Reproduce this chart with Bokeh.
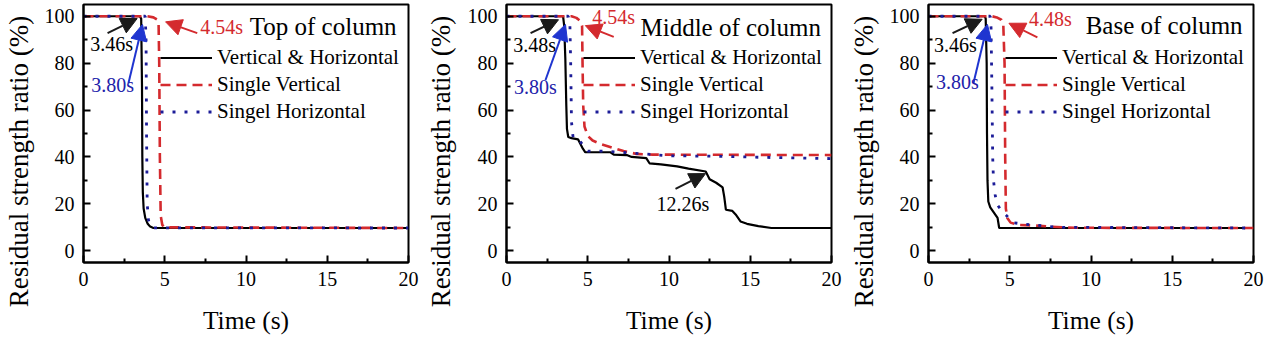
import math
from bokeh.plotting import figure
from bokeh.models import Range1d, FixedTicker, Arrow, NormalHead, Legend, LegendItem, Label
from bokeh.layouts import row
from bokeh.embed import file_html
from bokeh.resources import INLINE

# ---------------- data ----------------
series_names = ["Vertical & Horizontal", "Single Vertical", "Singel Horizontal"]
panel_titles = ["Top of column", "Middle of column", "Base of column"]
x_label = "Time (s)"
y_label = "Residual strength ratio (%)"
x_ticks = [0, 5, 10, 15, 20]
y_ticks = [0, 20, 40, 60, 80, 100]

# Top of column
top_t_vh = [0, 3.46, 3.55, 3.6, 3.62, 3.65, 3.7, 3.8, 3.95, 4.1, 4.3, 20]
top_y_vh = [100, 100, 99, 70, 40, 25, 18, 14, 11.5, 10.3, 9.7, 9.7]
top_t_v = [0, 3.9, 4.3, 4.54, 4.62, 4.66, 4.7, 4.75, 4.85, 5.0, 20]
top_y_v = [100, 100, 99.5, 98.5, 97, 80, 40, 15, 11, 10, 9.7]
top_t_h = [0, 3.8, 3.85, 3.88, 3.92, 4.0, 4.1, 4.25, 20]
top_y_h = [100, 100, 90, 50, 20, 13, 11, 9.8, 9.7]

# Middle of column
mid_t_vh = [0, 3.48, 3.55, 3.62, 3.68, 3.72, 3.8, 4.0, 4.4, 4.55, 4.7, 4.85, 5.5, 6.4, 6.6, 7.4, 7.7, 8.6, 8.8, 9.5,
            10.5, 11.2, 12.26, 12.5, 12.9, 13.3, 13.4, 13.5, 13.9, 14.1, 14.4, 14.8, 15.5, 16.3, 20]
mid_y_vh = [100, 100, 96, 82, 62, 52, 48.5, 48, 47.5, 45.5, 43.5, 42, 42, 42, 41, 40.8, 40, 39.5, 37.3, 36.8,
            36, 35, 33.8, 30.5, 29, 27, 23, 17.5, 17, 15.5, 12.5, 11.5, 10.5, 9.7, 9.7]
mid_t_v = [0, 4.0, 4.3, 4.54, 4.65, 4.68, 4.72, 4.8, 5.0, 5.3, 5.8, 6.5, 7.2, 8.0, 9.0, 20]
mid_y_v = [100, 100, 99.3, 98, 96, 80, 62, 53, 49, 47, 45.5, 44, 42.5, 41.3, 41, 40.8]
mid_t_h = [0, 3.8, 3.9, 3.95, 4.0, 4.1, 4.5, 4.8, 5.0, 6.0, 7.0, 8.0, 10, 13, 16, 20]
mid_y_h = [100, 100, 97, 80, 55, 48, 47, 44, 42.5, 42.5, 42, 41.5, 40.5, 40.3, 39.8, 39.3]

# Base of column
base_t_vh = [0, 3.46, 3.52, 3.58, 3.6, 3.63, 3.68, 3.8, 3.95, 4.1, 4.25, 4.35, 20]
base_y_vh = [100, 100, 99, 80, 50, 30, 21, 18.5, 17, 15.5, 14, 9.7, 9.7]
base_t_v = [0, 3.9, 4.2, 4.48, 4.6, 4.68, 4.72, 4.76, 4.85, 5.05, 5.5, 6.5, 7.5, 9, 20]
base_y_v = [100, 100, 99.5, 98.5, 97, 80, 40, 18, 14, 12, 11, 10.8, 10.3, 9.8, 9.7]
base_t_h = [0, 3.8, 3.85, 3.9, 3.95, 4.0, 4.1, 4.2, 4.5, 4.8, 5.2, 5.9, 6.8, 8, 20]
base_y_h = [100, 100, 95, 70, 40, 30, 24, 20, 17, 15, 12, 11.3, 10.8, 10, 9.7]

panels_data = [
    [(top_t_vh, top_y_vh), (top_t_v, top_y_v), (top_t_h, top_y_h)],
    [(mid_t_vh, mid_y_vh), (mid_t_v, mid_y_v), (mid_t_h, mid_y_h)],
    [(base_t_vh, base_y_vh), (base_t_v, base_y_v), (base_t_h, base_y_h)],
]

# annotation texts
ann_black = ["3.46s", "3.48s", "3.46s"]
ann_blue = ["3.80s", "3.80s", "3.80s"]
ann_red = ["4.54s", "4.54s", "4.48s"]
ann_extra = "12.26s"

# ---------------- styling / layout ----------------
FONT = "Liberation Serif"
C_BLACK = "#000000"
C_RED = "#d42a2e"
C_BLUE = "#1c1c98"
C_BLUE_ARROW = "#1f35d0"
C_BLUE_TEXT = "#2222aa"
C_ARROW_BLACK = "#1a1a1a"

# annotation geometry per panel: (text_x, text_y, tail_x, tail_y, head_x, head_y)
geo_black = [(1.73, 88, 1.48, 92.8, 3.3, 99), (1.73, 87.7, 1.48, 92.8, 3.2, 98.5), (1.66, 87.7, 1.48, 92.8, 3.3, 98.7)]
geo_blue = [(1.8, 70.6, 2.77, 71.5, 3.63, 96.5), (1.78, 70, 2.4, 72.8, 3.63, 96.5), (1.78, 71.9, 2.77, 71.5, 3.63, 96.5)]
geo_red = [(8.5, 95.3, 7.0, 92.8, 5.05, 97.6), (6.6, 99.6, 6.6, 91.2, 4.85, 96), (7.5, 99, 6.7, 91, 4.95, 97)]
geo_title = [(14.75, 95.7), (13.8, 95.3), (14.5, 96)]

H = 339
LABEL_W = 40
widths = [422, 423, 423]
lefts = [83, 84, 83]
FRAME_W, FRAME_H = 325, 258


def make_ylabel_strip():
    s = figure(width=LABEL_W, height=H, frame_width=LABEL_W, frame_height=H,
               x_range=Range1d(0, LABEL_W), y_range=Range1d(0, H),
               x_axis_location=None, y_axis_location=None,
               output_backend="svg", toolbar_location=None, min_border=0)
    s.grid.visible = False
    s.outline_line_color = None
    s.background_fill_color = "white"
    s.border_fill_color = "white"
    s.add_layout(Label(x=18, y=H - 157, x_units="screen", y_units="screen",
                       text=y_label, angle=math.pi / 2, text_align="center", text_baseline="alphabetic",
                       text_font=FONT, text_font_size="27px", text_color="black"))
    return s


def make_panel(i):
    w = widths[i] - LABEL_W
    left = lefts[i] - LABEL_W
    p = figure(width=w, height=H, frame_width=FRAME_W, frame_height=FRAME_H,
               x_range=Range1d(0, 20), y_range=Range1d(-5, 105),
               output_backend="svg", toolbar_location=None,
               min_border_left=left, min_border_right=w - left - FRAME_W,
               min_border_top=4, min_border_bottom=77)
    p.background_fill_color = "white"
    p.border_fill_color = "white"
    p.grid.visible = False
    p.outline_line_color = "black"
    p.outline_line_width = 2
    p.outline_line_alpha = 1

    p.xaxis.ticker = FixedTicker(ticks=x_ticks, minor_ticks=[2.5, 7.5, 12.5, 17.5])
    p.yaxis.ticker = FixedTicker(ticks=y_ticks, minor_ticks=[10, 30, 50, 70, 90])
    for ax in (p.xaxis, p.yaxis):
        ax.axis_line_width = 2
        ax.axis_line_color = "black"
        ax.major_tick_in = 7
        ax.major_tick_out = 0
        ax.minor_tick_in = 4
        ax.minor_tick_out = 0
        ax.major_tick_line_width = 2
        ax.minor_tick_line_width = 2
        ax.major_label_text_font = FONT
        ax.major_label_text_font_size = "20px"
        ax.major_label_text_color = "black"
        ax.axis_label_text_font = FONT
        ax.axis_label_text_font_style = "normal"
        ax.axis_label_text_color = "black"
    p.xaxis.axis_label = x_label
    p.xaxis.axis_label_text_font_size = "25.5px"
    p.xaxis.major_label_standoff = 9
    p.xaxis.axis_label_standoff = 17
    p.yaxis.major_label_standoff = 9

    (t_vh, y_vh), (t_v, y_v), (t_h, y_h) = panels_data[i]
    r_vh = p.line(t_vh, y_vh, line_color=C_BLACK, line_width=2.2)
    r_v = p.line(t_v, y_v, line_color=C_RED, line_width=2.6, line_dash="10 6")
    r_h = p.line(t_h, y_h, line_color=C_BLUE, line_width=2.8, line_dash="3 9")

    legend = Legend(items=[LegendItem(label=series_names[0], renderers=[r_vh]),
                           LegendItem(label=series_names[1], renderers=[r_v]),
                           LegendItem(label=series_names[2], renderers=[r_h])],
                    location=(77, 137), orientation="vertical")
    legend.border_line_color = None
    legend.background_fill_alpha = 0
    legend.padding = 0
    legend.margin = 0
    legend.spacing = 0
    legend.glyph_width = 52
    legend.glyph_height = 27
    legend.label_height = 27
    legend.label_standoff = 5
    legend.label_text_font = FONT
    legend.label_text_font_size = "21px"
    legend.label_text_color = "black"
    legend.label_text_baseline = "middle"
    p.add_layout(legend)

    def annotate(txt, g, tcolor, acolor):
        tx, ty, x0, y0, x1, y1 = g
        p.add_layout(Arrow(end=NormalHead(size=16, fill_color=acolor, line_color=acolor),
                           x_start=x0, y_start=y0, x_end=x1, y_end=y1,
                           line_color=acolor, line_width=2))
        p.add_layout(Label(x=tx, y=ty, text=txt, text_align="center", text_baseline="middle",
                           text_font=FONT, text_font_size="20px", text_color=tcolor))

    annotate(ann_black[i], geo_black[i], "black", C_ARROW_BLACK)
    annotate(ann_blue[i], geo_blue[i], C_BLUE_TEXT, C_BLUE_ARROW)
    annotate(ann_red[i], geo_red[i], C_RED, C_RED)
    if i == 1:
        annotate(ann_extra, (10.85, 19.9, 10.4, 26.4, 12.25, 32.9), "black", C_ARROW_BLACK)

    tx, ty = geo_title[i]
    p.add_layout(Label(x=tx, y=ty, text=panel_titles[i], text_align="center", text_baseline="middle",
                       text_font=FONT, text_font_size="25px", text_color="black"))
    return p


children = []
for i in range(3):
    children.append(make_ylabel_strip())
    children.append(make_panel(i))
layout = row(children, spacing=0)
open("out.html", "w").write(file_html(layout, INLINE))
